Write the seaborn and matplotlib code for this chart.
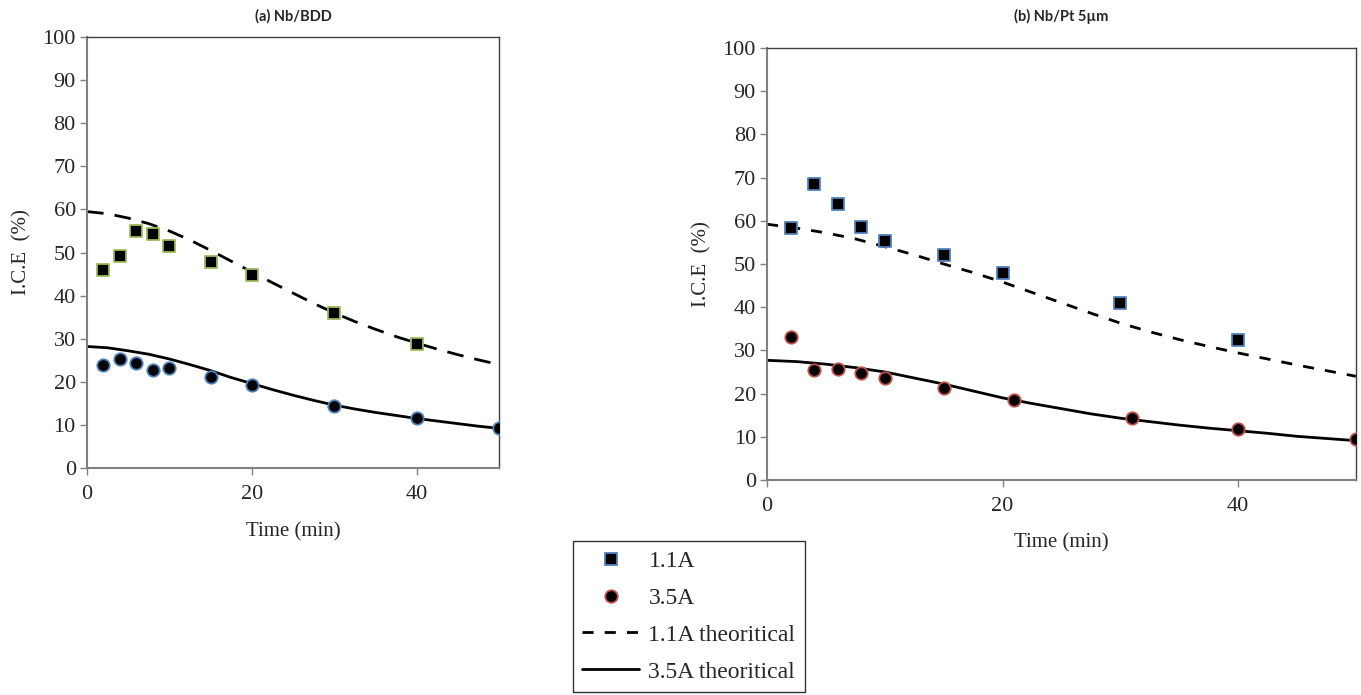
import numpy as np
import pandas as pd
import matplotlib
matplotlib.use("Agg")
import matplotlib.pyplot as plt
import seaborn as sns
from matplotlib.lines import Line2D

sns.set_style("white")
plt.rcParams["font.family"] = ["Liberation Serif", "DejaVu Serif"]

# -----------------------------------
# Data
# -----------------------------------

# (a) Nb/BDD
a_t_11 = [2, 4, 6, 8, 10, 15, 20, 30, 40]
a_ice_11 = [46.0, 49.1, 55.0, 54.3, 51.4, 47.7, 44.8, 36.0, 28.7]
a_t_35 = [2, 4, 6, 8, 10, 15, 20, 30, 40, 50]
a_ice_35 = [23.9, 25.4, 24.4, 22.8, 23.1, 21.2, 19.2, 14.4, 11.6, 9.2]

# (b) Nb/Pt 5um
b_t_11 = [2, 4, 6, 8, 10, 15, 20, 30, 40]
b_ice_11 = [58.3, 68.4, 63.8, 58.5, 55.3, 52.1, 47.9, 40.9, 32.3]
b_t_35 = [2, 4, 6, 8, 10, 15, 21, 31, 40, 50]
b_ice_35 = [33.2, 25.4, 25.8, 24.7, 23.5, 21.3, 18.6, 14.3, 11.9, 9.4]

# theoretical curves
t_theo = [0, 2.5, 5, 7.5, 10, 12.5, 15, 17.5, 20, 22.5, 25, 27.5, 30,
          32.5, 35, 37.5, 40, 42.5, 45, 47.5, 50]
a_theo_11 = [59.5, 59.0, 58.0, 56.7, 55.0, 52.9, 50.5, 48.0, 45.5, 43.0,
             40.6, 38.2, 36.0, 34.0, 32.2, 30.5, 29.0, 27.6, 26.3, 25.1, 24.0]
a_theo_35 = [28.2, 27.9, 27.2, 26.4, 25.3, 24.0, 22.6, 21.0, 19.6, 18.2,
             16.9, 15.7, 14.6, 13.7, 12.9, 12.2, 11.5, 10.9, 10.3, 9.7, 9.2]
b_theo_11 = [59.2, 58.3, 57.2, 55.8, 54.0, 52.1, 50.0, 48.0, 45.8, 43.4,
             41.0, 38.6, 36.3, 34.3, 32.5, 30.9, 29.4, 28.0, 26.6, 25.3, 24.0]
b_theo_35 = [27.7, 27.4, 26.8, 26.0, 25.0, 23.6, 22.2, 20.6, 19.0, 17.7,
             16.5, 15.3, 14.3, 13.5, 12.7, 12.0, 11.4, 10.8, 10.1, 9.6, 9.1]

panels = [
    dict(title="(a) Nb/BDD", t11=a_t_11, y11=a_ice_11, t35=a_t_35, y35=a_ice_35,
         th11=a_theo_11, th35=a_theo_35, sq_edge="#9bbb59", ci_edge="#4f81bd",
         dash=(6, 4), pos=[0.0639, 0.3266, 0.3027, 0.6201]),
    dict(title="(b) Nb/Pt 5µm", t11=b_t_11, y11=b_ice_11, t35=b_t_35, y35=b_ice_35,
         th11=b_theo_11, th35=b_theo_35, sq_edge="#4f81bd", ci_edge="#c0504d",
         dash=(4, 4), pos=[0.5636, 0.3094, 0.4327, 0.6216]),
]

fig = plt.figure(figsize=(13.61, 6.95), dpi=100)

for p in panels:
    ax = fig.add_axes(p["pos"])
    sns.lineplot(x=t_theo, y=p["th11"], ax=ax, color="black", lw=2,
                 dashes=False, linestyle=(0, p["dash"]))
    sns.lineplot(x=t_theo, y=p["th35"], ax=ax, color="black", lw=2)
    sns.scatterplot(x=p["t11"], y=p["y11"], ax=ax, marker="s", s=75,
                    color="black", edgecolor=p["sq_edge"], linewidth=1.3, zorder=3)
    sns.scatterplot(x=p["t35"], y=p["y35"], ax=ax, marker="o", s=80,
                    color="black", edgecolor=p["ci_edge"], linewidth=1.3, zorder=3)

    ax.set_xlim(0, 50)
    ax.set_ylim(0, 100)
    ax.set_xticks([0, 20, 40])
    ax.set_yticks(range(0, 101, 10))
    ax.tick_params(axis="both", labelsize=16, length=5, width=1,
                   color="#808080", direction="out", left=True, bottom=True)
    ax.tick_params(axis="x", pad=7)
    ax.tick_params(axis="y", pad=3)
    for side in ["left", "bottom"]:
        ax.spines[side].set_color("#808080")
        ax.spines[side].set_linewidth(1.5)
    for side in ["top", "right"]:
        ax.spines[side].set_color("#404040")
        ax.spines[side].set_linewidth(1)
    ax.set_xlabel("Time (min)", fontsize=15, labelpad=13)
    ax.set_ylabel("I.C.E  (%)", fontsize=15, labelpad=8)
    cx = p["pos"][0] + p["pos"][2] / 2
    fig.text(cx, 1 - 16 / 695, p["title"], ha="center", va="center",
             fontsize=10.5, fontweight="bold", family=["Lato", "DejaVu Sans"])

handles = [
    Line2D([], [], marker="s", ls="none", markersize=9, markerfacecolor="black",
           markeredgecolor="#4f81bd", markeredgewidth=1.3),
    Line2D([], [], marker="o", ls="none", markersize=9, markerfacecolor="black",
           markeredgecolor="#c0504d", markeredgewidth=1.3),
    Line2D([], [], color="black", lw=2, linestyle=(0, (4, 4))),
    Line2D([], [], color="black", lw=2),
]
labels = ["1.1A", "3.5A", "1.1A theoritical", "3.5A theoritical"]
leg = fig.legend(handles, labels, loc="center", bbox_to_anchor=(0.5062, 0.1129),
                 fontsize=17, frameon=True, fancybox=False, edgecolor="black",
                 handlelength=2.4, handletextpad=0.4, labelspacing=0.65,
                 borderpad=0.4, borderaxespad=0)
leg.get_frame().set_linewidth(1)

plt.savefig("out.png", dpi=100)
